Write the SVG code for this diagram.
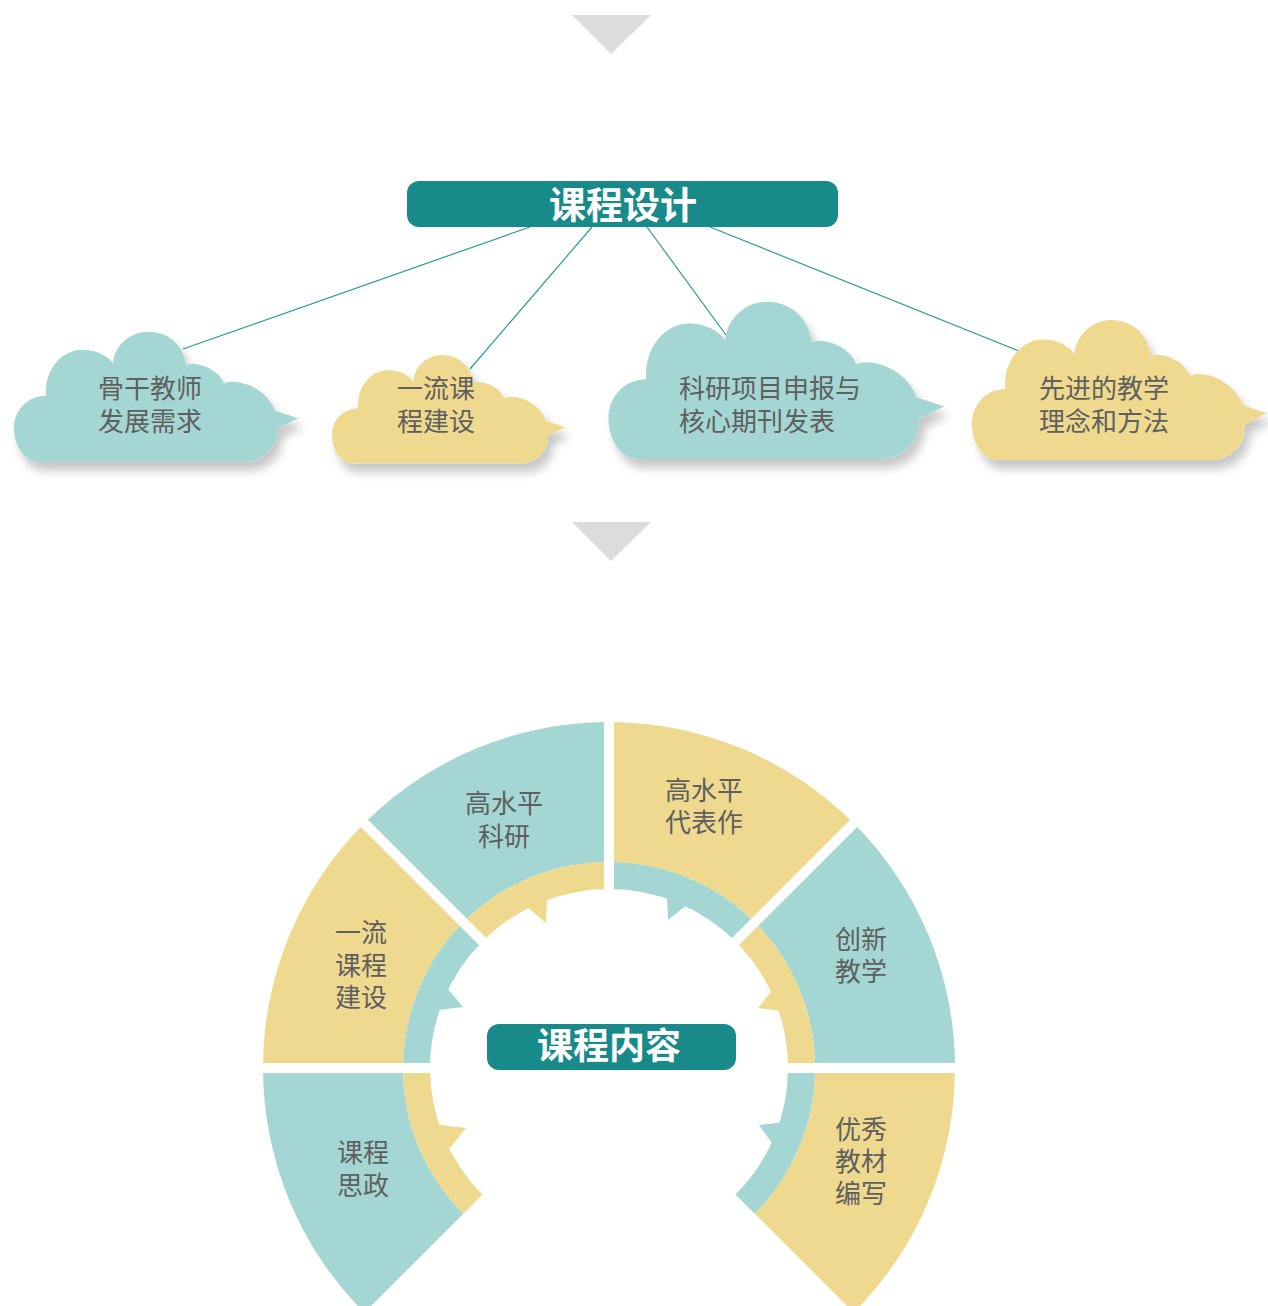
<svg xmlns="http://www.w3.org/2000/svg" xmlns:xlink="http://www.w3.org/1999/xlink" width="1268" height="1306" viewBox="0 0 1268 1306">
<style>
.teal{fill:#a4d7d3}
.yel{fill:#eed98f}
.dark{fill:#178a89}
.tri{fill:#dcdcdc}
.lbl{font-family:"Liberation Sans","Noto Sans CJK SC",sans-serif;font-size:26px;fill:#5f5f5f}
.ttl{font-family:"Liberation Sans","Noto Sans CJK SC",sans-serif;font-weight:700;fill:#ffffff}
.con{stroke:#2b9a9a;stroke-width:1.2;fill:none}
.gap{stroke:#ffffff;stroke-width:10;fill:none}
</style>
<defs>
<filter id="sh" x="-10%" y="-10%" width="130%" height="140%">
<feDropShadow dx="5" dy="9" stdDeviation="5" flood-color="#000" flood-opacity="0.22"/>
</filter>
<path id="cloud" d="M25.5,130 C10,130 0,114 0,96 C0,78 14,64 32,64 C30,38 48,18 68,18 C83,18 95,25 99,32 C100,14 116,0 134,0 C155,0 170,14 172,33 C185,30 205,38 210,52 C220,46 252,54 261,79 L284.4,86.6 L263,97 C265,112 252,130 230,130 Z"/>
</defs>
<rect width="1268" height="1306" fill="#ffffff"/>
<polygon class="tri" points="572,15 651,15 611,54"/>
<polygon class="tri" points="572,522 651,522 611,561"/>

<g id="connectors">
<line class="con" x1="530" y1="227" x2="183" y2="349"/>
<line class="con" x1="592" y1="227" x2="470" y2="369"/>
<line class="con" x1="647" y1="227" x2="726" y2="335"/>
<line class="con" x1="710" y1="227" x2="1019" y2="351"/>
</g>

<g id="node-design">
<rect class="dark" x="407" y="181" width="431" height="46" rx="12"/>
<text class="ttl" x="623" y="219" font-size="37" text-anchor="middle">课程设计</text>
</g>

<g id="cloud-1">
<g filter="url(#sh)"><use xlink:href="#cloud" class="teal" transform="translate(14,331.7)"/></g>
<text class="lbl" x="98" y="398">骨干教师<tspan x="98" dy="33">发展需求</tspan></text>
</g>
<g id="cloud-2">
<g filter="url(#sh)"><use xlink:href="#cloud" class="yel" transform="translate(332,355) scale(0.82,0.833)"/></g>
<text class="lbl" x="397" y="398">一流课<tspan x="397" dy="33">程建设</tspan></text>
</g>
<g id="cloud-3">
<g filter="url(#sh)"><use xlink:href="#cloud" class="teal" transform="translate(608.5,301.7) scale(1.18,1.21)"/></g>
<text class="lbl" x="679" y="398">科研项目申报与<tspan x="679" dy="33">核心期刊发表</tspan></text>
</g>
<g id="cloud-4">
<g filter="url(#sh)"><use xlink:href="#cloud" class="yel" transform="translate(972,320) scale(1.037,1.077)"/></g>
<text class="lbl" x="1039" y="398">先进的教学<tspan x="1039" dy="33">理念和方法</tspan></text>
</g>

<g id="seg-kcsz">
<path class="teal" d="M364.34,1312.66 A346,346 0 0 1 263,1068 L403,1068 A206,206 0 0 0 463.34,1213.66 Z"/>
<path class="yel" d="M463.34,1213.66 A206,206 0 0 1 403,1068 L430,1068 A179,179 0 0 0 482.43,1194.57 Z"/>
<polygon class="yel" points="440,1125 466,1128 450,1148 438,1140"/>
<text class="lbl" x="363" y="1162" text-anchor="middle">课程<tspan x="363" dy="33">思政</tspan></text>
</g>
<g id="seg-ylkc">
<path class="yel" d="M263,1068 A346,346 0 0 1 364.34,823.34 L463.34,922.34 A206,206 0 0 0 403,1068 Z"/>
<path class="teal" d="M403,1068 A206,206 0 0 1 463.34,922.34 L482.43,941.43 A179,179 0 0 0 430,1068 Z"/>
<polygon class="teal" points="447,988 463,1007 439,1010 441,996"/>
<text class="lbl" x="361" y="942" text-anchor="middle">一流<tspan x="361" dy="32.5">课程</tspan><tspan x="361" dy="32.5">建设</tspan></text>
</g>
<g id="seg-gspky">
<path class="teal" d="M364.34,823.34 A346,346 0 0 1 609,722 L609,862 A206,206 0 0 0 463.34,922.34 Z"/>
<path class="yel" d="M463.34,922.34 A206,206 0 0 1 609,862 L609,889 A179,179 0 0 0 482.43,941.43 Z"/>
<polygon class="yel" points="547,897 546,923 527,907 536,901"/>
<text class="lbl" x="504" y="813" text-anchor="middle">高水平<tspan x="504" dy="33">科研</tspan></text>
</g>
<g id="seg-gspdbz">
<path class="yel" d="M609,722 A346,346 0 0 1 853.66,823.34 L754.66,922.34 A206,206 0 0 0 609,862 Z"/>
<path class="teal" d="M609,862 A206,206 0 0 1 754.66,922.34 L735.57,941.43 A179,179 0 0 0 609,889 Z"/>
<polygon class="teal" points="667,897 668,920 687,905 677,899"/>
<text class="lbl" x="704" y="800" text-anchor="middle">高水平<tspan x="704" dy="32">代表作</tspan></text>
</g>
<g id="seg-cxjx">
<path class="teal" d="M853.66,823.34 A346,346 0 0 1 955,1068 L815,1068 A206,206 0 0 0 754.66,922.34 Z"/>
<path class="yel" d="M754.66,922.34 A206,206 0 0 1 815,1068 L788,1068 A179,179 0 0 0 735.57,941.43 Z"/>
<polygon class="yel" points="773,989 758,1008 781,1011 778,998"/>
<text class="lbl" x="861" y="949" text-anchor="middle">创新<tspan x="861" dy="32">教学</tspan></text>
</g>
<g id="seg-yxjc">
<path class="yel" d="M955,1068 A346,346 0 0 1 853.66,1312.66 L754.66,1213.66 A206,206 0 0 0 815,1068 Z"/>
<path class="teal" d="M815,1068 A206,206 0 0 1 754.66,1213.66 L735.57,1194.57 A179,179 0 0 0 788,1068 Z"/>
<polygon class="teal" points="783,1122 759,1125 772,1143 779,1134"/>
<text class="lbl" x="861" y="1139" text-anchor="middle">优秀<tspan x="861" dy="32">教材</tspan><tspan x="861" dy="32">编写</tspan></text>
</g>

<g id="gaps">
<line class="gap" x1="449" y1="1068" x2="249" y2="1068"/>
<line class="gap" x1="495.9" y1="954.9" x2="354.4" y2="813.4"/>
<line class="gap" x1="609" y1="908" x2="609" y2="708"/>
<line class="gap" x1="722.1" y1="954.9" x2="863.6" y2="813.4"/>
<line class="gap" x1="769" y1="1068" x2="969" y2="1068"/>
</g>

<g id="node-content">
<rect class="dark" x="487" y="1024" width="249" height="46" rx="12"/>
<text class="ttl" x="609" y="1059" font-size="36" text-anchor="middle">课程内容</text>
</g>
</svg>
